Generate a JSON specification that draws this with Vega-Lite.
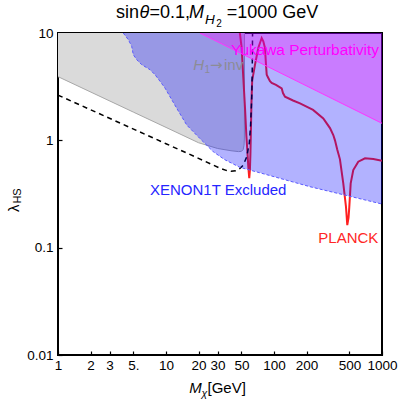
{
  "$schema": "https://vega.github.io/schema/vega-lite/v6.json",
  "width": 324,
  "height": 322,
  "autosize": {"type": "none"},
  "padding": {"left": 58, "top": 33, "right": 17, "bottom": 50},
  "background": "white",
  "config": {
    "view": {"stroke": "#000", "strokeWidth": 2},
    "font": "Liberation Sans",
    "axis": {
      "domain": false,
      "grid": false,
      "ticks": true,
      "tickColor": "#000",
      "tickSize": -4,
      "tickWidth": 1.2,
      "labelFont": "Liberation Sans",
      "labelFontSize": 13.5,
      "labelColor": "#000",
      "labelFlush": false,
      "labelOverlap": false,
      "zindex": 1
    }
  },
  "datasets": {
    "gray": [
      {"x": 1, "y": 3.92}, {"x": 5, "y": 1.83}, {"x": 10, "y": 1.32}, {"x": 20, "y": 0.95},
      {"x": 30, "y": 0.84}, {"x": 40, "y": 0.8}, {"x": 47, "y": 0.785}, {"x": 50, "y": 0.79},
      {"x": 51.8, "y": 0.82}, {"x": 52.8, "y": 0.9}, {"x": 53.2, "y": 1.05}, {"x": 53.3, "y": 10}
    ],
    "relic": [
      {"x": 47.7, "y": 11.1}, {"x": 50.2, "y": 7.25}, {"x": 52.0, "y": 3.81}, {"x": 53.9, "y": 2.0},
      {"x": 55.5, "y": 1.1}, {"x": 56.6, "y": 0.81}, {"x": 57.8, "y": 0.567}, {"x": 59.0, "y": 0.443},
      {"x": 59.8, "y": 0.52}, {"x": 60.5, "y": 0.75}, {"x": 61.2, "y": 1.3}, {"x": 61.8, "y": 2.2},
      {"x": 62.8, "y": 3.6}, {"x": 66.7, "y": 5.07}, {"x": 71.5, "y": 7.25}, {"x": 76.9, "y": 8.98},
      {"x": 79.6, "y": 8.37}, {"x": 82.5, "y": 7.25}, {"x": 84.3, "y": 5.07}, {"x": 85.6, "y": 4.09},
      {"x": 88.6, "y": 3.81}, {"x": 91.8, "y": 3.55}, {"x": 95.2, "y": 3.42}, {"x": 104.3, "y": 3.28},
      {"x": 117.8, "y": 3.05}, {"x": 121.1, "y": 2.76}, {"x": 126.4, "y": 2.55}, {"x": 150, "y": 2.35},
      {"x": 174.1, "y": 2.21}, {"x": 230, "y": 1.92}, {"x": 286, "y": 1.6}, {"x": 330, "y": 1.3},
      {"x": 354, "y": 1.12}, {"x": 367, "y": 1.0}, {"x": 385, "y": 0.82}, {"x": 408, "y": 0.665},
      {"x": 438, "y": 0.397}, {"x": 464, "y": 0.24}, {"x": 477, "y": 0.162}, {"x": 490, "y": 0.19},
      {"x": 498, "y": 0.24}, {"x": 513, "y": 0.397}, {"x": 542, "y": 0.529}, {"x": 603, "y": 0.632},
      {"x": 696, "y": 0.68}, {"x": 831, "y": 0.671}, {"x": 1000, "y": 0.646}
    ],
    "dashed": [
      {"x": 1, "y": 2.64}, {"x": 10, "y": 0.93}, {"x": 20, "y": 0.68}, {"x": 31.6, "y": 0.55},
      {"x": 36, "y": 0.525}, {"x": 40, "y": 0.515}, {"x": 44, "y": 0.52}, {"x": 48.4, "y": 0.548},
      {"x": 52, "y": 0.589}, {"x": 55.9, "y": 0.703}, {"x": 59, "y": 0.938}, {"x": 60.6, "y": 1.34},
      {"x": 62.1, "y": 2.38}, {"x": 62.8, "y": 4}, {"x": 63.3, "y": 10}
    ],
    "xenon": [
      {"x": 4.02, "y": 10}, {"x": 4.48, "y": 8.66}, {"x": 4.81, "y": 7.52}, {"x": 4.98, "y": 6.28},
      {"x": 5.36, "y": 5.64}, {"x": 5.96, "y": 5.07}, {"x": 7.11, "y": 4.55}, {"x": 7.91, "y": 4.09},
      {"x": 8.8, "y": 3.55}, {"x": 9.79, "y": 3.07}, {"x": 12.56, "y": 1.99}, {"x": 15.55, "y": 1.39},
      {"x": 20.6, "y": 1.04}, {"x": 27.4, "y": 0.783}, {"x": 35, "y": 0.66}, {"x": 48.4, "y": 0.56},
      {"x": 91.5, "y": 0.47}, {"x": 215, "y": 0.37}, {"x": 1000, "y": 0.255}
    ],
    "yukawa": [
      {"x": 20.6, "y": 10}, {"x": 1000, "y": 1.44}
    ]
  },
  "layer": [
    {
      "encoding": {
        "x": {
          "field": "x", "type": "quantitative", "title": null,
          "scale": {"type": "log", "domain": [1, 1000], "nice": false},
          "axis": {
            "values": [1, 2, 3, 5, 10, 20, 30, 50, 100, 200, 500, 1000],
            "labelExpr": "datum.value == 5 ? '5.' : format(datum.value, '~g')",
            "labelPadding": 7
          }
        },
        "y": {
          "field": "y", "type": "quantitative", "title": null,
          "scale": {"type": "log", "domain": [0.01, 10], "nice": false},
          "axis": {
            "values": [0.01, 0.1, 1, 10],
            "labelExpr": "format(datum.value, '~g')",
            "labelPadding": 9
          }
        }
      },
      "layer": [
        {"data": {"name": "gray"}, "mark": {"type": "area", "color": "#dadada", "clip": true}, "encoding": {"y2": {"datum": 10}}},
        {"data": {"name": "gray"}, "mark": {"type": "line", "color": "#a8a8a8", "strokeWidth": 1, "clip": true}},
        {"data": {"name": "relic"}, "mark": {"type": "line", "color": "#ff1f1f", "strokeWidth": 2, "clip": true}},
        {"data": {"name": "dashed"}, "mark": {"type": "line", "color": "#000", "strokeWidth": 1.5, "strokeDash": [5, 4], "clip": true}},
        {"data": {"name": "xenon"}, "mark": {"type": "area", "color": "#0000ff", "opacity": 0.3, "clip": true}, "encoding": {"y2": {"datum": 10}}},
        {"data": {"name": "xenon"}, "mark": {"type": "line", "color": "#5a5aff", "strokeWidth": 1, "strokeDash": [3, 2], "clip": true}},
        {"data": {"name": "yukawa"}, "mark": {"type": "area", "color": "#ff00ff", "opacity": 0.3, "clip": true}, "encoding": {"y2": {"datum": 10}}},
        {"data": {"name": "yukawa"}, "mark": {"type": "line", "color": "#ff33ff", "strokeWidth": 1, "clip": true}}
      ]
    },

    {"data": {"values": [{"t": "Yukawa Perturbativity"}]}, "mark": {"type": "text", "align": "left", "baseline": "alphabetic", "fontSize": 15.4, "color": "#ff00ff"},
     "encoding": {"x": {"datum": 40.0, "type": "quantitative", "title": null}, "y": {"datum": 6.3, "type": "quantitative", "title": null}, "text": {"field": "t"}}},

    {"data": {"values": [{"t": "H"}]}, "mark": {"type": "text", "align": "left", "baseline": "alphabetic", "fontSize": 15, "fontStyle": "italic", "color": "#8c8c96"},
     "encoding": {"x": {"datum": 17.89, "type": "quantitative", "title": null}, "y": {"datum": 4.52, "type": "quantitative", "title": null}, "text": {"field": "t"}}},
    {"data": {"values": [{"t": "1"}]}, "mark": {"type": "text", "align": "left", "baseline": "alphabetic", "fontSize": 10, "color": "#8c8c96"},
     "encoding": {"x": {"datum": 22.73, "type": "quantitative", "title": null}, "y": {"datum": 4.24, "type": "quantitative", "title": null}, "text": {"field": "t"}}},
    {"data": {"values": [{"t": "→"}]}, "mark": {"type": "text", "align": "left", "baseline": "alphabetic", "fontSize": 15, "font": "DejaVu Sans", "color": "#8c8c96"},
     "encoding": {"x": {"datum": 25.55, "type": "quantitative", "title": null}, "y": {"datum": 4.52, "type": "quantitative", "title": null}, "text": {"field": "t"}}},
    {"data": {"values": [{"t": "inv"}]}, "mark": {"type": "text", "align": "left", "baseline": "alphabetic", "fontSize": 15, "color": "#8c8c96"},
     "encoding": {"x": {"datum": 34.45, "type": "quantitative", "title": null}, "y": {"datum": 4.52, "type": "quantitative", "title": null}, "text": {"field": "t"}}},

    {"data": {"values": [{"t": "XENON1T Excluded"}]}, "mark": {"type": "text", "align": "left", "baseline": "alphabetic", "fontSize": 15, "color": "#2626ff"},
     "encoding": {"x": {"datum": 7.11, "type": "quantitative", "title": null}, "y": {"datum": 0.309, "type": "quantitative", "title": null}, "text": {"field": "t"}}},
    {"data": {"values": [{"t": "PLANCK"}]}, "mark": {"type": "text", "align": "left", "baseline": "alphabetic", "fontSize": 15, "color": "#ff2626"},
     "encoding": {"x": {"datum": 257.2, "type": "quantitative", "title": null}, "y": {"datum": 0.1096, "type": "quantitative", "title": null}, "text": {"field": "t"}}},

    {"data": {"values": [{"t": "sin"}]}, "mark": {"type": "text", "align": "left", "baseline": "alphabetic", "fontSize": 18, "color": "#000"},
     "encoding": {"x": {"datum": 3.44, "type": "quantitative", "title": null}, "y": {"datum": 13.71, "type": "quantitative", "title": null}, "text": {"field": "t"}}},
    {"data": {"values": [{"t": "θ"}]}, "mark": {"type": "text", "align": "left", "baseline": "alphabetic", "fontSize": 18, "fontStyle": "italic", "color": "#000"},
     "encoding": {"x": {"datum": 5.68, "type": "quantitative", "title": null}, "y": {"datum": 13.71, "type": "quantitative", "title": null}, "text": {"field": "t"}}},
    {"data": {"values": [{"t": "=0.1,"}]}, "mark": {"type": "text", "align": "left", "baseline": "alphabetic", "fontSize": 18, "color": "#000"},
     "encoding": {"x": {"datum": 7.04, "type": "quantitative", "title": null}, "y": {"datum": 13.71, "type": "quantitative", "title": null}, "text": {"field": "t"}}},
    {"data": {"values": [{"t": "M"}]}, "mark": {"type": "text", "align": "left", "baseline": "alphabetic", "fontSize": 18, "fontStyle": "italic", "color": "#000"},
     "encoding": {"x": {"datum": 16.35, "type": "quantitative", "title": null}, "y": {"datum": 13.71, "type": "quantitative", "title": null}, "text": {"field": "t"}}},
    {"data": {"values": [{"t": "H"}]}, "mark": {"type": "text", "align": "left", "baseline": "alphabetic", "fontSize": 13.5, "fontStyle": "italic", "color": "#000"},
     "encoding": {"x": {"datum": 22.97, "type": "quantitative", "title": null}, "y": {"datum": 12.13, "type": "quantitative", "title": null}, "text": {"field": "t"}}},
    {"data": {"values": [{"t": "2"}]}, "mark": {"type": "text", "align": "left", "baseline": "alphabetic", "fontSize": 10, "color": "#000"},
     "encoding": {"x": {"datum": 29.2, "type": "quantitative", "title": null}, "y": {"datum": 11.37, "type": "quantitative", "title": null}, "text": {"field": "t"}}},
    {"data": {"values": [{"t": "=1000 GeV"}]}, "mark": {"type": "text", "align": "left", "baseline": "alphabetic", "fontSize": 18, "color": "#000"},
     "encoding": {"x": {"datum": 36.5, "type": "quantitative", "title": null}, "y": {"datum": 13.71, "type": "quantitative", "title": null}, "text": {"field": "t"}}},

    {"data": {"values": [{"t": "M"}]}, "mark": {"type": "text", "align": "left", "baseline": "alphabetic", "fontSize": 15, "fontStyle": "italic", "color": "#000"},
     "encoding": {"x": {"datum": 16.43, "type": "quantitative", "title": null}, "y": {"datum": 0.004416, "type": "quantitative", "title": null}, "text": {"field": "t"}}},
    {"data": {"values": [{"t": "χ"}]}, "mark": {"type": "text", "align": "left", "baseline": "alphabetic", "fontSize": 10.5, "fontStyle": "italic", "color": "#000"},
     "encoding": {"x": {"datum": 21.32, "type": "quantitative", "title": null}, "y": {"datum": 0.004055, "type": "quantitative", "title": null}, "text": {"field": "t"}}},
    {"data": {"values": [{"t": "[GeV]"}]}, "mark": {"type": "text", "align": "left", "baseline": "alphabetic", "fontSize": 15, "color": "#000"},
     "encoding": {"x": {"datum": 24.24, "type": "quantitative", "title": null}, "y": {"datum": 0.004416, "type": "quantitative", "title": null}, "text": {"field": "t"}}},

    {"data": {"values": [{"t": "λ"}]}, "mark": {"type": "text", "align": "left", "baseline": "alphabetic", "fontSize": 15, "angle": 270, "color": "#000"},
     "encoding": {"x": {"datum": 0.4383, "type": "quantitative", "title": null}, "y": {"datum": 0.2147, "type": "quantitative", "title": null}, "text": {"field": "t"}}},
    {"data": {"values": [{"t": "HS"}]}, "mark": {"type": "text", "align": "left", "baseline": "alphabetic", "fontSize": 11, "angle": 270, "color": "#000"},
     "encoding": {"x": {"datum": 0.4544, "type": "quantitative", "title": null}, "y": {"datum": 0.2575, "type": "quantitative", "title": null}, "text": {"field": "t"}}}
  ]
}
